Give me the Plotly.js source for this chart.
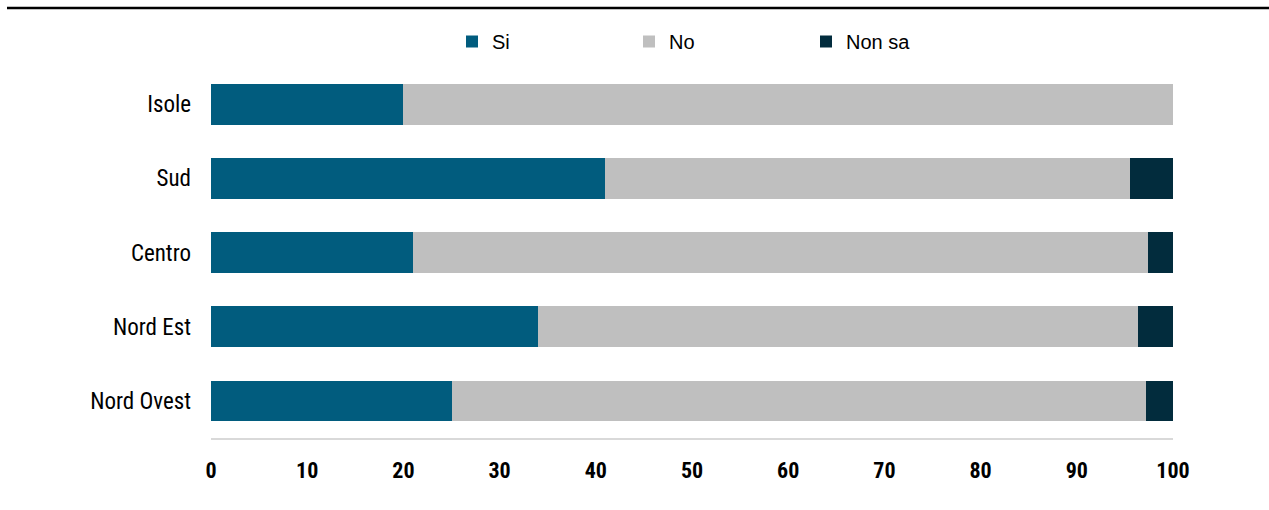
<!DOCTYPE html>
<html>
<head>
<meta charset="utf-8">
<script src="https://cdn.plot.ly/plotly-3.0.1.min.js"></script>
<style>html,body{margin:0;padding:0;background:#fff;}#chart{width:1269px;height:510px;}</style>
</head>
<body>
<div id="chart"></div>
<script>
const categories = ["Nord Ovest", "Nord Est", "Centro", "Sud", "Isole"];
const seriesNames = ["Si", "No", "Non sa"];
const siValues = [25, 34, 21, 41, 20];
const noValues = [72.2, 62.4, 76.4, 54.5, 80];
const nonSaValues = [2.8, 3.6, 2.6, 4.5, 0];
const xTickValues = [0, 10, 20, 30, 40, 50, 60, 70, 80, 90, 100];

const colors = ["#015c7e", "#bfbfbf", "#022c3d"];
const narrow = "Roboto Condensed, DejaVu Sans Condensed, sans-serif";
const regular = "Liberation Sans, Arial, sans-serif";

const allValues = [siValues, noValues, nonSaValues];
const data = seriesNames.map((name, i) => ({
  type: "bar",
  orientation: "h",
  name: name,
  y: categories,
  x: allValues[i],
  marker: {color: colors[i], line: {width: 0}},
  hoverinfo: "x+y+name"
}));

const layout = {
  width: 1269,
  height: 510,
  barmode: "stack",
  bargap: 0.45,
  paper_bgcolor: "#ffffff",
  plot_bgcolor: "#ffffff",
  margin: {l: 211, r: 96, t: 67, b: 72, pad: 0},
  showlegend: true,
  legend: {
    orientation: "h",
    xref: "container",
    yref: "container",
    x: 452 / 1269,
    xanchor: "left",
    y: 1 - 41.5 / 510,
    yanchor: "middle",
    entrywidth: 132,
    entrywidthmode: "pixels",
    traceorder: "normal",
    font: {family: regular, size: 20, color: "#000000"},
    bgcolor: "rgba(0,0,0,0)",
    borderwidth: 0
  },
  xaxis: {
    range: [0, 100],
    tickvals: xTickValues,
    ticktext: xTickValues.map(String),
    showgrid: false,
    zeroline: false,
    showline: true,
    linecolor: "#d9d9d9",
    linewidth: 2,
    ticks: "",
    tickfont: {family: narrow, size: 22, color: "#000000", weight: "bold"},
    ticklabelstandoff: 12,
    fixedrange: true
  },
  yaxis: {
    type: "category",
    categoryorder: "array",
    categoryarray: categories,
    showgrid: false,
    zeroline: false,
    showline: false,
    ticks: "",
    tickfont: {family: narrow, size: 23, color: "#000000"},
    ticklabelstandoff: 19,
    fixedrange: true
  },
  shapes: [{
    type: "line",
    xref: "paper",
    yref: "paper",
    x0: (7 - 211) / 962,
    x1: (1269 - 211) / 962,
    y0: (438 - 8) / 371,
    y1: (438 - 8) / 371,
    line: {color: "#000000", width: 2.5}
  }]
};

Plotly.newPlot("chart", data, layout, {displayModeBar: false, staticPlot: true});
</script>
</body>
</html>
